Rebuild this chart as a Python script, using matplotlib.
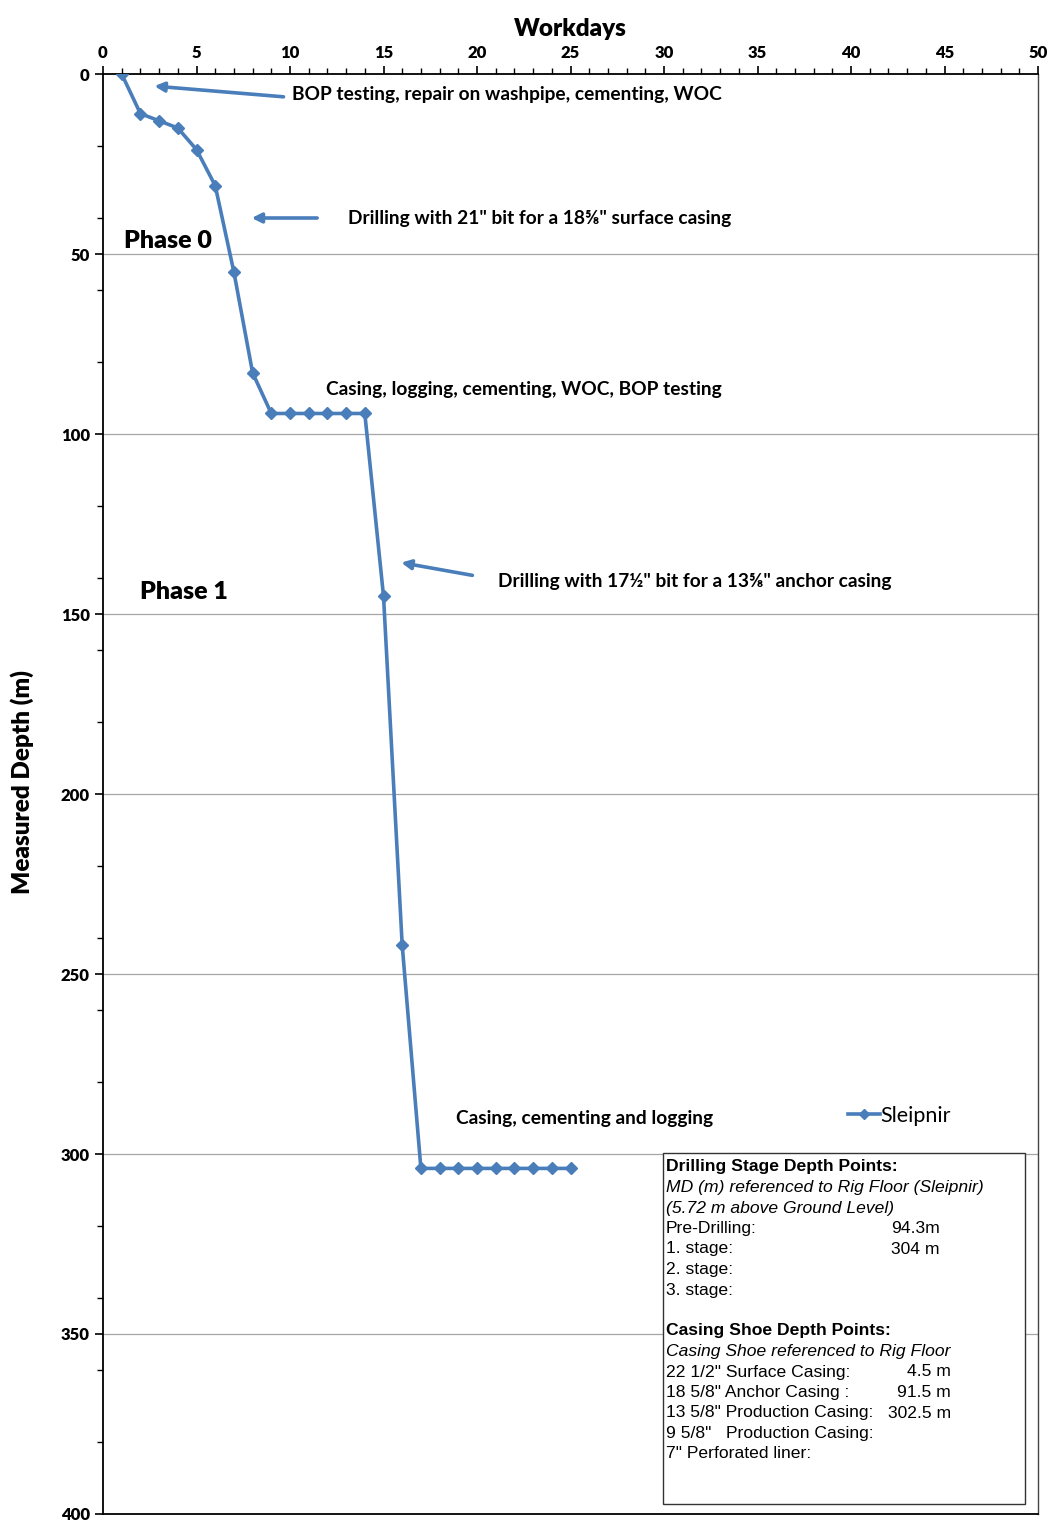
import matplotlib
matplotlib.use("Agg")
import matplotlib.pyplot as plt
from matplotlib.patches import Rectangle
from matplotlib.ticker import MultipleLocator

plt.rcParams['font.family'] = ['Lato', 'DejaVu Sans']

# well progress: workday vs measured depth
workdays = [1, 2, 3, 4, 5, 6, 7, 8, 9, 10, 11, 12, 13, 14, 15, 16, 17,
            18, 19, 20, 21, 22, 23, 24, 25]
depth_m = [0, 11, 13, 15, 21, 31, 55, 83, 94.3, 94.3, 94.3, 94.3, 94.3, 94.3, 145, 242, 304,
           304, 304, 304, 304, 304, 304, 304, 304]

notes = [
    ("BOP testing, repair on washpipe, cementing, WOC", 10.1, 5.8),
    ("Drilling with 21\" bit for a 18⅝\" surface casing", 13.1, 40),
    ("Casing, logging, cementing, WOC, BOP testing", 11.9, 87.5),
    ("Drilling with 17½\" bit for a 13⅝\" anchor casing", 21.1, 141),
    ("Casing, cementing and logging", 18.9, 290),
]
arrows = [((9.8, 6.4), (2.6, 3.3)), ((11.6, 40), (7.8, 40)), ((19.9, 139.4), (15.8, 135.6))]
phases = [("Phase 0", 1.1, 46.5), ("Phase 1", 2.0, 144)]

box_lines = [
    ("Drilling Stage Depth Points:", "", "bold"),
    ("MD (m) referenced to Rig Floor (Sleipnir)", "", "italic"),
    ("(5.72 m above Ground Level)", "", "italic"),
    ("Pre-Drilling:", "94.3m", ""),
    ("1. stage:", "304 m", ""),
    ("2. stage:", "", ""),
    ("3. stage:", "", ""),
    ("", "", ""),
    ("Casing Shoe Depth Points:", "", "bold"),
    ("Casing Shoe referenced to Rig Floor", "", "italic"),
    ("22 1/2\" Surface Casing:", "4.5 m", ""),
    ("18 5/8\" Anchor Casing :", "91.5 m", ""),
    ("13 5/8\" Production Casing:", "302.5 m", ""),
    ("9 5/8\"   Production Casing:", "", ""),
    ("7\" Perforated liner:", "", ""),
]

W, H = 1051, 1521
fig = plt.figure(figsize=(W / 100, H / 100), dpi=100)
ax = fig.add_axes([103 / W, 1 - 1514 / H, 935 / W, 1440 / H])

blue = '#4A7EBB'
ax.plot(workdays, depth_m, color=blue, lw=2.6, marker='D', ms=6, label='Sleipnir', zorder=3)

ax.set_xlim(0, 50)
ax.set_ylim(400, 0)
ax.xaxis.tick_top()
ax.xaxis.set_label_position('top')
ax.xaxis.set_major_locator(MultipleLocator(5))
ax.xaxis.set_minor_locator(MultipleLocator(1))
ax.yaxis.set_major_locator(MultipleLocator(50))
ax.yaxis.set_minor_locator(MultipleLocator(20))
ax.tick_params(which='major', length=6, width=1.2, labelsize=12, direction='out')
ax.tick_params(which='minor', length=4, width=1.0, direction='out')
for lab in ax.get_xticklabels() + ax.get_yticklabels():
    lab.set_fontweight('heavy')
ax.set_xlabel('Workdays', fontsize=17.5, fontweight='heavy', labelpad=6)
ax.set_ylabel('Measured Depth (m)', fontsize=17.5, fontweight='heavy')
ax.yaxis.set_label_coords(-0.074, 0.508)
for s in ax.spines.values():
    s.set_linewidth(1.3)
ax.spines['right'].set_color('#444444')
ax.spines['right'].set_linewidth(1.0)

for yv in range(50, 400, 50):
    ax.axhline(yv, color='#A6A6A6', lw=0.9, zorder=1)

for txt, x, y in notes:
    ax.text(x, y, txt, fontsize=13.8, fontweight='bold', va='center', ha='left')
for (x0, y0), (x1, y1) in arrows:
    ax.annotate('', xy=(x1, y1), xytext=(x0, y0),
                arrowprops=dict(arrowstyle='-|>', color=blue, lw=2.6, mutation_scale=14))
for txt, x, y in phases:
    ax.text(x, y, txt, fontsize=18, fontweight='heavy', va='center', ha='left')

ax.legend(loc='center left', bbox_to_anchor=(829 / W, 1 - 1116 / H), bbox_transform=fig.transFigure,
          frameon=False, fontsize=15.5, handlelength=1.45, handletextpad=0.05, markerscale=0.9)

# info box
fig.patches.append(Rectangle((663 / W, 1 - 1504 / H), (1025 - 663) / W, (1504 - 1153) / H,
                             transform=fig.transFigure, fill=True, facecolor='white',
                             edgecolor='#333333', lw=1.0, zorder=5))
for i, (left, right, style) in enumerate(box_lines):
    yy = 1 - (1167 + i * 20.5) / H
    kw = dict(family='Liberation Sans', fontsize=12.6, va='center', zorder=6)
    if style == 'bold':
        kw['fontweight'] = 'bold'
    if style == 'italic':
        kw['style'] = 'italic'
    if left:
        fig.text(666 / W, yy, left, ha='left', **kw)
    if right:
        if i < 8:
            fig.text(891 / W, yy, right, ha='left', **kw)
        else:
            fig.text(951 / W, yy, right, ha='right', **kw)

fig.savefig('out.png', dpi=100)
